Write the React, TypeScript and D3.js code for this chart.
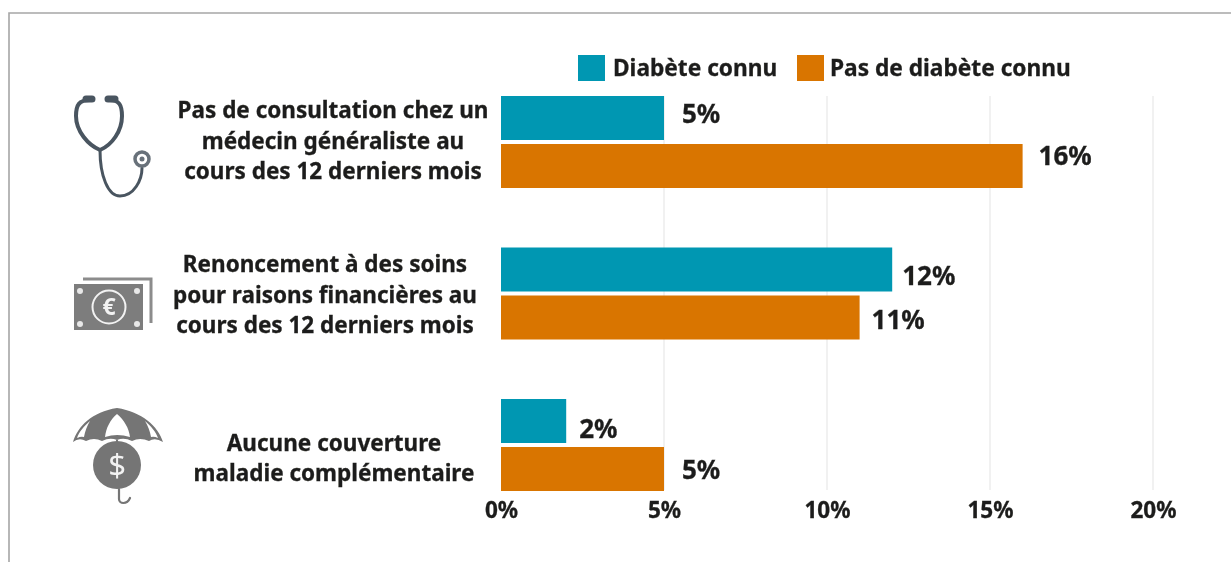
import React, { useEffect, useRef } from "react";
import { select, scaleLinear, scaleBand, axisBottom } from "d3";

const WIDTH = 1231;
const HEIGHT = 562;
const FONT = "'Noto Sans', sans-serif";
const INK = "#1d1d1b";

// data
const categories = ["consultation", "renoncement", "couverture"];
const seriesNames = ["Diabète connu", "Pas de diabète connu"];
const diabeteConnu = [5, 12, 2];
const pasDeDiabete = [16, 11, 5];
const xTicks = [0, 5, 10, 15, 20];
const labelLines = [
  ["Pas de consultation chez un", "médecin généraliste au", "cours des 12 derniers mois"],
  ["Renoncement à des soins", "pour raisons financières au", "cours des 12 derniers mois"],
  ["Aucune couverture", "maladie complémentaire"],
];
const colors = ["#0097b2", "#d97405"];

// label blocks are not all centred on the same x in the original
const labelCenters = [333, 325, 334];
const labelMiddles = [141, 295, 458];
// the value labels are hand placed in the original, offsets from the bar end / bar middle
const valueDx = [[18, 10, 13], [16, 12, 18]];
const valueDy = [[-4, 6, 8], [-10, 2, 1]];

function Stethoscope() {
  return (
    <g fill="none" stroke="#4a5560" strokeLinecap="round">
      <path d="M90 100 C79 100 76 105 76 116 C76 131 88 145 100 150 C112 145 122 131 122 116 C122 105 119 100 110 100" strokeWidth="4" />
      <path d="M100 150 C100 176 108 196 120 196 C134 196 142 180 142 168" strokeWidth="3" />
      <path d="M86 99 L92 99 M108 99 L115 99" strokeWidth="7" />
      <circle cx="142" cy="159" r="7" strokeWidth="3.5" stroke="#68717a" />
      <circle cx="142" cy="159" r="2.5" fill="#68717a" stroke="none" />
    </g>
  );
}

function Banknote() {
  return (
    <g>
      <path d="M83 279 L151 279 L151 323" fill="none" stroke="#8c8c8c" strokeWidth="3" />
      <rect x="74" y="284" width="69" height="46" fill="#7d7d7d" />
      <circle cx="109" cy="307" r="16.5" fill="none" stroke="#f2f2f2" strokeWidth="2" />
      <text x="109" y="315" textAnchor="middle" fontFamily={FONT} fontWeight="700" fontSize="23" fill="#f2f2f2">€</text>
      <circle cx="80" cy="291" r="3" fill="#e8e8e8" />
      <circle cx="137" cy="291" r="3" fill="#e8e8e8" />
      <circle cx="80" cy="324" r="3" fill="#e8e8e8" />
      <circle cx="137" cy="324" r="3" fill="#e8e8e8" />
    </g>
  );
}

function Umbrella() {
  return (
    <g>
      <path
        d="M117 408 C142 412 158 426 163 442 Q155 437 149 441 Q140 437 132 441 Q124 437 117 440 Q110 437 102 441 Q94 437 86 441 Q79 437 73 442 C78 426 92 412 117 408 Z"
        fill="#757575"
      />
      <path d="M117 414 C110 420 106 428 105 437 Q117 433 130 437 C129 428 124 420 117 414 Z" fill="#fff" />
      <path d="M90 421 C84 426 79 432 77 438 Q81 436 84 437 C85 431 87 426 90 421 Z" fill="#fff" />
      <path d="M145 421 C151 426 156 432 158 438 Q154 436 151 437 C150 431 148 426 145 421 Z" fill="#fff" />
      <circle cx="117" cy="465" r="24" fill="#757575" />
      <text x="117" y="476" textAnchor="middle" fontFamily={FONT} fontSize="31" fill="#f2f2f2">$</text>
      <path d="M119 489 L119 499 C119 504 127 505 130 498" fill="none" stroke="#757575" strokeWidth="2.2" strokeLinecap="round" />
      <path d="M117 440 L117 442" stroke="#757575" strokeWidth="2" />
    </g>
  );
}

export default function App() {
  const svgRef = useRef<SVGSVGElement>(null);

  useEffect(() => {
    const svg = select(svgRef.current);
    svg.select(".content").selectAll("*").remove();
    const content = svg.select(".content");

    const xScale = scaleLinear().domain([0, 20]).range([501, 1153]);
    const yScale = scaleBand().domain(categories).range([66.25, 520.75]);
    const inner = scaleBand().domain(seriesNames).range([0, 92]).paddingInner(0.0833);
    const groupTop = (cat: string) => yScale(cat)! + (yScale.bandwidth() - 92) / 2;

    // axis: only the tick labels and the faint gridlines are visible
    const xAxis = axisBottom(xScale)
      .tickValues(xTicks)
      .tickFormat((d) => `${d}%`)
      .tickSize(0)
      .tickPadding(0);
    const axisG = content.append("g").attr("transform", "translate(0, 497)").call(xAxis);
    axisG.select(".domain").remove();
    axisG
      .selectAll("text")
      .attr("font-family", FONT)
      .attr("font-weight", 700)
      .attr("font-size", 22.5)
      .attr("fill", INK)
      .attr("stroke", INK)
      .attr("stroke-width", 0.3)
      .attr("dy", "0.95em");

    content
      .append("g")
      .selectAll("line")
      .data(xTicks.slice(1))
      .join("line")
      .attr("x1", (d) => xScale(d))
      .attr("x2", (d) => xScale(d))
      .attr("y1", 96)
      .attr("y2", 490)
      .attr("stroke", "#ececec")
      .attr("stroke-width", 1.5);

    [diabeteConnu, pasDeDiabete].forEach((values, s) => {
      const g = content.append("g");
      g.selectAll("rect")
        .data(values)
        .join("rect")
        .attr("x", xScale(0))
        .attr("y", (_, i) => groupTop(categories[i]) + inner(seriesNames[s])!)
        .attr("width", (d) => xScale(d) - xScale(0))
        .attr("height", inner.bandwidth())
        .attr("fill", colors[s]);
      g.selectAll("text")
        .data(values)
        .join("text")
        .attr("x", (d, i) => xScale(d) + valueDx[s][i])
        .attr("y", (_, i) => groupTop(categories[i]) + inner(seriesNames[s])! + inner.bandwidth() / 2 + valueDy[s][i])
        .attr("dy", "0.35em")
        .attr("font-family", FONT)
        .attr("font-weight", 700)
        .attr("font-size", 26)
        .attr("fill", INK)
        .attr("stroke", INK)
        .attr("stroke-width", 0.3)
        .text((d) => `${d}%`);
    });

    // category labels
    labelLines.forEach((lines, i) => {
      content
        .append("g")
        .selectAll("text")
        .data(lines)
        .join("text")
        .attr("x", labelCenters[i])
        .attr("y", (_, j) => labelMiddles[i] + (j - (lines.length - 1) / 2) * 30.5)
        .attr("dy", "0.35em")
        .attr("text-anchor", "middle")
        .attr("font-family", FONT)
        .attr("font-weight", 700)
        .attr("font-size", 22.5)
        .attr("fill", INK)
        .attr("stroke", INK)
        .attr("stroke-width", 0.3)
        .text((d) => d);
    });

    // legend
    const legendX = [578, 797];
    const legend = content
      .append("g")
      .selectAll("g")
      .data(seriesNames)
      .join("g")
      .attr("transform", (_, i) => `translate(${legendX[i]}, 55)`);
    legend
      .append("rect")
      .attr("width", 27)
      .attr("height", 26)
      .attr("fill", (_, i) => colors[i]);
    legend
      .append("text")
      .attr("x", (_, i) => (i === 0 ? 35 : 33))
      .attr("y", 13)
      .attr("dy", "0.35em")
      .attr("font-family", FONT)
      .attr("font-weight", 700)
      .attr("font-size", 22.7)
      .attr("fill", INK)
      .attr("stroke", INK)
      .attr("stroke-width", 0.3)
      .text((d) => d);
  }, []);

  return (
    <svg
      ref={svgRef}
      width={WIDTH}
      height={HEIGHT}
      style={{ position: "absolute", left: 0, top: 0, background: "#fff" }}
    >
      <defs>
        <filter id="soft" x="-2%" y="-2%" width="104%" height="104%">
          <feGaussianBlur stdDeviation="0.55" />
        </filter>
      </defs>
      <path d={`M9 ${HEIGHT} L9 13 L${WIDTH} 13`} fill="none" stroke="#a6a6a6" strokeWidth="1.6" />
      <g filter="url(#soft)">
        <g className="content" />
        <Stethoscope />
        <Banknote />
        <Umbrella />
      </g>
    </svg>
  );
}
